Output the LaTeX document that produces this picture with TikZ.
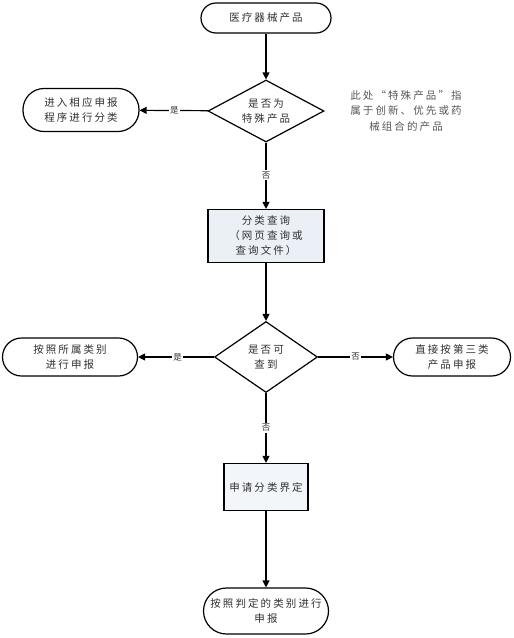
\documentclass[tikz,border=0pt]{standalone}
\usepackage{fontspec}
\setmainfont{Noto Sans CJK SC}[LetterSpace=20]
\usetikzlibrary{shapes.geometric,arrows.meta}
\definecolor{txt}{HTML}{303030}
\definecolor{note}{HTML}{555555}
\definecolor{boxfill}{HTML}{EBF0F7}
\definecolor{boxfilltwo}{HTML}{F2F5FA}
\tikzset{
  base/.style={draw=black, line width=1.2pt, text=txt, font=\fontsize{10.5}{15}\selectfont, align=center, inner sep=0pt},
  term/.style={base, fill=white, rounded corners=#1},
  proc/.style={base, rectangle, fill=boxfill},
  dec/.style={base, diamond, fill=white, aspect=1.8},
  conn/.style={line width=1.2pt, -{Triangle[length=7pt,width=7pt]}},
  lbl/.style={text=txt, font=\fontsize{8.5}{10}\selectfont, fill=white, inner sep=1pt}
}
\begin{document}
\begin{tikzpicture}[x=1pt,y=-1pt]
\useasboundingbox (0,0) rectangle (514,638);
\node[term=15pt, minimum width=130pt, minimum height=30pt] (start) at (266,18) {医疗器械产品};
\node[dec, minimum width=116pt, minimum height=62pt] (d1) at (266,111) {};
\node[text=txt, font=\fontsize{10.5}{15}\selectfont, align=center] at (266,111) {是否为\\特殊产品};
\node[term=21pt, minimum width=116pt, minimum height=43pt] (t1) at (81,110) {进入相应申报\\程序进行分类};
\node[text=note, font=\fontsize{10.5}{15.5}\selectfont, align=center] (n1) at (406,111) {此处“特殊产品”指\\属于创新、优先或药\\械组合的产品};
\node[proc, minimum width=116pt, minimum height=53pt] (q) at (266,236) {分类查询\\（网页查询或\\查询文件）};
\node[dec, minimum width=103pt, minimum height=71pt] (d2) at (266,357) {};
\node[text=txt, font=\fontsize{10.5}{15}\selectfont, align=center] at (266,357) {是否可\\查到};
\node[term=19pt, minimum width=135pt, minimum height=38pt] (t2) at (70,357) {按照所属类别\\进行申报};
\node[term=19pt, minimum width=117pt, minimum height=38pt] (t3) at (452,357) {直接按第三类\\产品申报};
\node[base, rectangle, fill=boxfilltwo, minimum width=84pt, minimum height=47pt] (app) at (266,487) {申请分类界定};
\node[term=23pt, minimum width=125pt, minimum height=46pt] (end) at (266,611) {按照判定的类别进行\\申报};
\draw[conn] (start) -- (d1);
\draw[conn] (d1) -- node[lbl, pos=0.49] {是} (t1);
\draw[conn] (d1) -- node[lbl, pos=0.49] {否} (q);
\draw[conn] (q) -- (d2);
\draw[conn] (d2) -- node[lbl, pos=0.48] {是} (t2);
\draw[conn] (d2) -- node[lbl, pos=0.5] {否} (t3);
\draw[conn] (d2) -- node[lbl, pos=0.5] {否} (app);
\draw[conn] (app) -- (end);
\end{tikzpicture}
\end{document}
